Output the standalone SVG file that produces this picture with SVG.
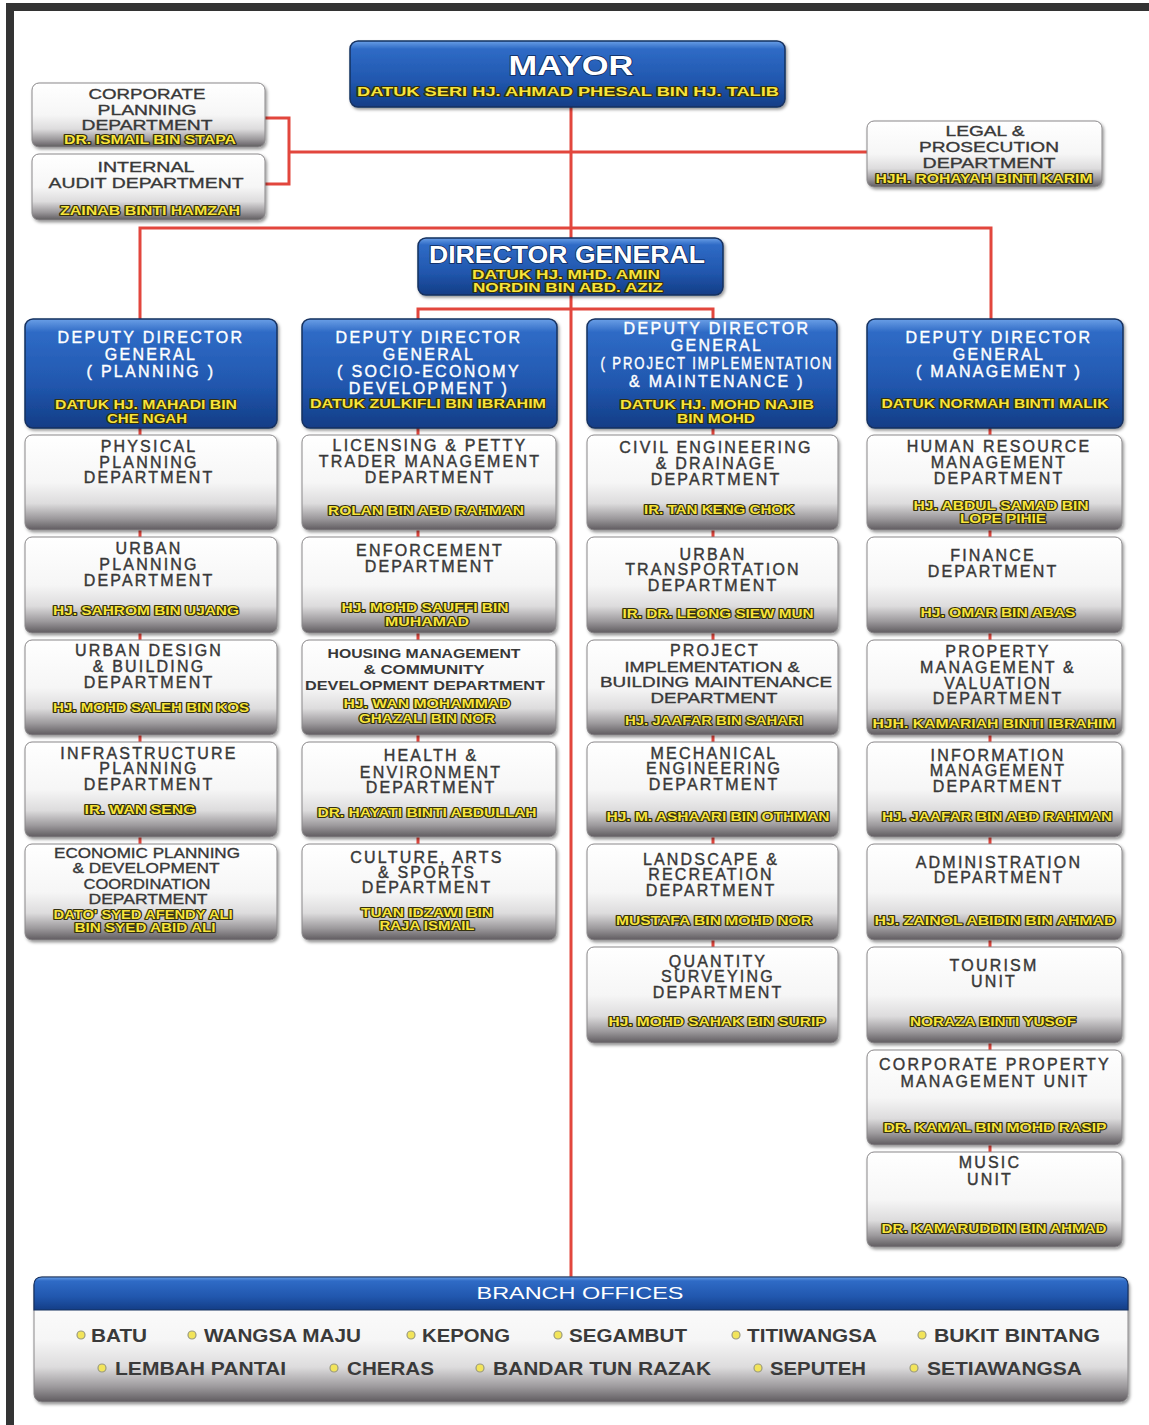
<svg xmlns="http://www.w3.org/2000/svg" width="1149" height="1425" viewBox="0 0 1149 1425">
<defs>
<linearGradient id="gray" x1="0" y1="0" x2="0" y2="1">
<stop offset="0" stop-color="#ffffff"/><stop offset="0.5" stop-color="#f6f6f6"/><stop offset="0.72" stop-color="#dddcdd"/><stop offset="0.88" stop-color="#9c999c"/><stop offset="1" stop-color="#5f5b5f"/>
</linearGradient>
<linearGradient id="blue" x1="0" y1="0" x2="0" y2="1">
<stop offset="0" stop-color="#6a9fe6"/><stop offset="0.12" stop-color="#2f6bc6"/><stop offset="0.6" stop-color="#2157ae"/><stop offset="1" stop-color="#133d86"/>
</linearGradient>
<filter id="sh" x="-5%" y="-5%" width="112%" height="120%">
<feDropShadow dx="1.5" dy="2" stdDeviation="1.5" flood-color="#000" flood-opacity="0.4"/>
</filter>
<style>
.box{fill:url(#gray);stroke:#8a888a;stroke-width:1;filter:url(#sh)}
.bbox{fill:url(#blue);stroke:#15305f;stroke-width:1.5;filter:url(#sh)}
.t{font-family:"Liberation Sans",Arial,sans-serif;font-size:16px;letter-spacing:2.2px;fill:#383838;stroke:#383838;stroke-width:0.4;text-anchor:middle}
.tc{font-family:"Liberation Sans",Arial,sans-serif;font-size:15px;fill:#383838;stroke:#383838;stroke-width:0.35;text-anchor:middle}
.th{font-family:"Liberation Sans",Arial,sans-serif;font-size:12px;font-weight:bold;fill:#383838;text-anchor:middle}
.w{font-family:"Liberation Sans",Arial,sans-serif;font-size:16px;letter-spacing:2.3px;fill:#ffffff;stroke:#ffffff;stroke-width:0.4;text-anchor:middle}
.wb{font-family:"Liberation Sans",Arial,sans-serif;font-weight:bold;fill:#ffffff;stroke:#0f2a5c;stroke-width:1.5;paint-order:stroke;text-anchor:middle}
.n{font-family:"Liberation Sans",Arial,sans-serif;font-size:12.5px;font-weight:bold;fill:#f8e43a;stroke:#33300f;stroke-width:2.2;stroke-linejoin:round;paint-order:stroke;text-anchor:middle}
.br{font-family:"Liberation Sans",Arial,sans-serif;font-size:18px;font-weight:bold;fill:#3a3a3a}
.dot{fill:#f2e45a;stroke:#9a9a80;stroke-width:1.2}
.c{stroke:#e2463d;stroke-width:3;fill:none}
</style>
</defs>
<rect x="0" y="0" width="1149" height="1425" fill="#ffffff"/>
<rect x="6" y="3" width="8" height="1422" fill="#333333"/>
<rect x="6" y="3" width="1143" height="8" fill="#333333"/>

<g id="connectors">
<line class="c" x1="571" y1="107" x2="571" y2="1277"/>
<line class="c" x1="289" y1="152" x2="867" y2="152"/>
<path class="c" d="M265 118 H289 V184 H265"/>
<path class="c" d="M140 319 V228 H991 V319"/>
<path class="c" d="M418 319 V309 H713 V319"/>
<path class="c" d="M140 428 V435 M140 530 V537 M140 633 V640 M140 735 V742 M140 837 V844"/>
<path class="c" d="M418 428 V435 M418 530 V537 M418 633 V640 M418 735 V742 M418 837 V844"/>
<path class="c" d="M713 428 V435 M713 530 V537 M713 633 V640 M713 735 V742 M713 837 V844 M713 940 V947"/>
<path class="c" d="M990 428 V435 M990 530 V537 M990 633 V640 M990 735 V742 M990 837 V844 M990 940 V947 M990 1043 V1050 M990 1145 V1152"/>
</g>

<g id="mayor">
<rect class="bbox" x="350" y="41" width="435" height="66" rx="8"/>
<text class="wb" x="571" y="75" font-size="27" textLength="125" lengthAdjust="spacingAndGlyphs">MAYOR</text>
<text class="n" x="568" y="96" font-size="14" textLength="422" lengthAdjust="spacingAndGlyphs">DATUK SERI HJ. AHMAD PHESAL BIN HJ. TALIB</text>
</g>

<g id="corporate-planning">
<rect class="box" x="32" y="83" width="233" height="64" rx="7"/>
<text class="tc" x="147" y="99" textLength="117" lengthAdjust="spacingAndGlyphs">CORPORATE</text>
<text class="tc" x="147" y="115" textLength="99" lengthAdjust="spacingAndGlyphs">PLANNING</text>
<text class="tc" x="147" y="130" textLength="131" lengthAdjust="spacingAndGlyphs">DEPARTMENT</text>
<text class="n" x="150" y="143.5" textLength="172" lengthAdjust="spacingAndGlyphs">DR. ISMAIL BIN STAPA</text>
</g>

<g id="internal-audit">
<rect class="box" x="32" y="154" width="233" height="66" rx="7"/>
<text class="tc" x="146" y="172" textLength="97" lengthAdjust="spacingAndGlyphs">INTERNAL</text>
<text class="tc" x="146" y="188" textLength="195" lengthAdjust="spacingAndGlyphs">AUDIT DEPARTMENT</text>
<text class="n" x="150" y="214.5" textLength="180" lengthAdjust="spacingAndGlyphs">ZAINAB BINTI HAMZAH</text>
</g>

<g id="legal-prosecution">
<rect class="box" x="867" y="121" width="235" height="66" rx="7"/>
<text class="tc" x="985" y="135.5" textLength="79" lengthAdjust="spacingAndGlyphs">LEGAL &amp;</text>
<text class="tc" x="989" y="152" textLength="140" lengthAdjust="spacingAndGlyphs">PROSECUTION</text>
<text class="tc" x="989" y="167.5" textLength="133" lengthAdjust="spacingAndGlyphs">DEPARTMENT</text>
<text class="n" x="984" y="182.5" textLength="217" lengthAdjust="spacingAndGlyphs">HJH. ROHAYAH BINTI KARIM</text>
</g>

<g id="director-general">
<rect class="bbox" x="418" y="238" width="305" height="57" rx="8"/>
<text class="wb" x="567" y="263" font-size="23" textLength="276" lengthAdjust="spacingAndGlyphs">DIRECTOR GENERAL</text>
<text class="n" x="566" y="279" font-size="12" textLength="188" lengthAdjust="spacingAndGlyphs">DATUK HJ. MHD. AMIN</text>
<text class="n" x="568" y="291.5" font-size="12" textLength="190" lengthAdjust="spacingAndGlyphs">NORDIN BIN ABD. AZIZ</text>
</g>

<g id="ddg-planning">
<rect class="bbox" x="25" y="319" width="252" height="109" rx="8"/>
<text class="w" x="151" y="343">DEPUTY DIRECTOR</text>
<text class="w" x="151" y="360">GENERAL</text>
<text class="w" x="151" y="377">( PLANNING )</text>
<text class="n" x="146" y="409" textLength="182" lengthAdjust="spacingAndGlyphs">DATUK HJ. MAHADI BIN</text>
<text class="n" x="147" y="423" textLength="80" lengthAdjust="spacingAndGlyphs">CHE NGAH</text>
</g>

<g id="ddg-socio-economy">
<rect class="bbox" x="302" y="319" width="255" height="109" rx="8"/>
<text class="w" x="429" y="343">DEPUTY DIRECTOR</text>
<text class="w" x="429" y="360">GENERAL</text>
<text class="w" x="429" y="377">( SOCIO-ECONOMY</text>
<text class="w" x="429" y="394">DEVELOPMENT )</text>
<text class="n" x="428" y="408" textLength="236" lengthAdjust="spacingAndGlyphs">DATUK ZULKIFLI BIN IBRAHIM</text>
</g>

<g id="ddg-project">
<rect class="bbox" x="587" y="319" width="250" height="109" rx="8"/>
<text class="w" x="717" y="334">DEPUTY DIRECTOR</text>
<text class="w" x="717" y="351">GENERAL</text>
<text class="w" x="717" y="369" textLength="233" lengthAdjust="spacingAndGlyphs">( PROJECT IMPLEMENTATION</text>
<text class="w" x="717" y="387">&amp; MAINTENANCE )</text>
<text class="n" x="717" y="409" textLength="194" lengthAdjust="spacingAndGlyphs">DATUK HJ. MOHD NAJIB</text>
<text class="n" x="716" y="423" textLength="78" lengthAdjust="spacingAndGlyphs">BIN MOHD</text>
</g>

<g id="ddg-management">
<rect class="bbox" x="867" y="319" width="256" height="109" rx="8"/>
<text class="w" x="999" y="343">DEPUTY DIRECTOR</text>
<text class="w" x="999" y="360">GENERAL</text>
<text class="w" x="999" y="377">( MANAGEMENT )</text>
<text class="n" x="995" y="408" textLength="227" lengthAdjust="spacingAndGlyphs">DATUK NORMAH BINTI MALIK</text>
</g>

<!-- column 1 -->
<g id="physical-planning">
<rect class="box" x="25" y="435" width="252" height="95" rx="7"/>
<text class="t" x="149" y="452">PHYSICAL</text>
<text class="t" x="149" y="468">PLANNING</text>
<text class="t" x="149" y="483">DEPARTMENT</text>
</g>
<g id="urban-planning">
<rect class="box" x="25" y="537" width="252" height="96" rx="7"/>
<text class="t" x="149" y="554">URBAN</text>
<text class="t" x="149" y="570">PLANNING</text>
<text class="t" x="149" y="586">DEPARTMENT</text>
<text class="n" x="146" y="614.5" textLength="186" lengthAdjust="spacingAndGlyphs">HJ. SAHROM BIN UJANG</text>
</g>
<g id="urban-design">
<rect class="box" x="25" y="640" width="252" height="95" rx="7"/>
<text class="t" x="149" y="656">URBAN DESIGN</text>
<text class="t" x="149" y="672">&amp; BUILDING</text>
<text class="t" x="149" y="688">DEPARTMENT</text>
<text class="n" x="151" y="711.5" textLength="196" lengthAdjust="spacingAndGlyphs">HJ. MOHD SALEH BIN KOS</text>
</g>
<g id="infrastructure-planning">
<rect class="box" x="25" y="742" width="252" height="95" rx="7"/>
<text class="t" x="149" y="759">INFRASTRUCTURE</text>
<text class="t" x="149" y="774">PLANNING</text>
<text class="t" x="149" y="790">DEPARTMENT</text>
<text class="n" x="140" y="813.5" textLength="111" lengthAdjust="spacingAndGlyphs">IR. WAN SENG</text>
</g>
<g id="economic-planning">
<rect class="box" x="25" y="844" width="252" height="96" rx="7"/>
<text class="tc" x="147" y="858" textLength="186" lengthAdjust="spacingAndGlyphs">ECONOMIC PLANNING</text>
<text class="tc" x="146" y="873" textLength="147" lengthAdjust="spacingAndGlyphs">&amp; DEVELOPMENT</text>
<text class="tc" x="147" y="889" textLength="127" lengthAdjust="spacingAndGlyphs">COORDINATION</text>
<text class="tc" x="148" y="904" textLength="119" lengthAdjust="spacingAndGlyphs">DEPARTMENT</text>
<text class="n" x="143" y="919" textLength="179" lengthAdjust="spacingAndGlyphs">DATO' SYED AFENDY ALI</text>
<text class="n" x="145" y="931.5" textLength="141" lengthAdjust="spacingAndGlyphs">BIN SYED ABID ALI</text>
</g>

<!-- column 2 -->
<g id="licensing">
<rect class="box" x="302" y="435" width="254" height="95" rx="7"/>
<text class="t" x="430" y="451">LICENSING &amp; PETTY</text>
<text class="t" x="430" y="467">TRADER MANAGEMENT</text>
<text class="t" x="430" y="483">DEPARTMENT</text>
<text class="n" x="426" y="514.5" textLength="196" lengthAdjust="spacingAndGlyphs">ROLAN BIN ABD RAHMAN</text>
</g>
<g id="enforcement">
<rect class="box" x="302" y="537" width="254" height="96" rx="7"/>
<text class="t" x="430" y="556">ENFORCEMENT</text>
<text class="t" x="430" y="572">DEPARTMENT</text>
<text class="n" x="425" y="611.5" textLength="167" lengthAdjust="spacingAndGlyphs">HJ. MOHD SAUFFI BIN</text>
<text class="n" x="427" y="626" textLength="84" lengthAdjust="spacingAndGlyphs">MUHAMAD</text>
</g>
<g id="housing">
<rect class="box" x="302" y="640" width="254" height="95" rx="7"/>
<text class="th" x="424" y="657.5" textLength="193" lengthAdjust="spacingAndGlyphs">HOUSING MANAGEMENT</text>
<text class="th" x="424" y="673.5" textLength="121" lengthAdjust="spacingAndGlyphs">&amp; COMMUNITY</text>
<text class="th" x="425" y="689.5" textLength="240" lengthAdjust="spacingAndGlyphs">DEVELOPMENT DEPARTMENT</text>
<text class="n" x="427" y="707.5" textLength="167" lengthAdjust="spacingAndGlyphs">HJ. WAN MOHAMMAD</text>
<text class="n" x="427" y="723" textLength="136" lengthAdjust="spacingAndGlyphs">GHAZALI BIN NOR</text>
</g>
<g id="health-environment">
<rect class="box" x="302" y="742" width="254" height="95" rx="7"/>
<text class="t" x="431" y="761">HEALTH &amp;</text>
<text class="t" x="431" y="778">ENVIRONMENT</text>
<text class="t" x="431" y="793">DEPARTMENT</text>
<text class="n" x="427" y="816.5" textLength="219" lengthAdjust="spacingAndGlyphs">DR. HAYATI BINTI ABDULLAH</text>
</g>
<g id="culture-arts">
<rect class="box" x="302" y="844" width="254" height="96" rx="7"/>
<text class="t" x="427" y="863">CULTURE, ARTS</text>
<text class="t" x="427" y="878">&amp; SPORTS</text>
<text class="t" x="427" y="893">DEPARTMENT</text>
<text class="n" x="427" y="916.5" textLength="132" lengthAdjust="spacingAndGlyphs">TUAN IDZAWI BIN</text>
<text class="n" x="427" y="930" textLength="95" lengthAdjust="spacingAndGlyphs">RAJA ISMAIL</text>
</g>

<!-- column 3 -->
<g id="civil-engineering">
<rect class="box" x="587" y="435" width="251" height="95" rx="7"/>
<text class="t" x="716" y="453">CIVIL ENGINEERING</text>
<text class="t" x="716" y="469">&amp; DRAINAGE</text>
<text class="t" x="716" y="485">DEPARTMENT</text>
<text class="n" x="719" y="513.5" textLength="150" lengthAdjust="spacingAndGlyphs">IR. TAN KENG CHOK</text>
</g>
<g id="urban-transportation">
<rect class="box" x="587" y="537" width="251" height="96" rx="7"/>
<text class="t" x="713" y="560">URBAN</text>
<text class="t" x="713" y="575">TRANSPORTATION</text>
<text class="t" x="713" y="591">DEPARTMENT</text>
<text class="n" x="718" y="617.5" textLength="191" lengthAdjust="spacingAndGlyphs">IR. DR. LEONG SIEW MUN</text>
</g>
<g id="project-implementation">
<rect class="box" x="587" y="640" width="251" height="95" rx="7"/>
<text class="t" x="715" y="656">PROJECT</text>
<text class="tc" x="712" y="672" font-size="16" textLength="175" lengthAdjust="spacingAndGlyphs">IMPLEMENTATION &amp;</text>
<text class="tc" x="716" y="687" font-size="16" textLength="232" lengthAdjust="spacingAndGlyphs">BUILDING MAINTENANCE</text>
<text class="tc" x="714" y="703" font-size="16" textLength="127" lengthAdjust="spacingAndGlyphs">DEPARTMENT</text>
<text class="n" x="714" y="724.5" textLength="178" lengthAdjust="spacingAndGlyphs">HJ. JAAFAR BIN SAHARI</text>
</g>
<g id="mechanical-engineering">
<rect class="box" x="587" y="742" width="251" height="95" rx="7"/>
<text class="t" x="714" y="759">MECHANICAL</text>
<text class="t" x="714" y="774">ENGINEERING</text>
<text class="t" x="714" y="790">DEPARTMENT</text>
<text class="n" x="718" y="820.5" textLength="223" lengthAdjust="spacingAndGlyphs">HJ. M. ASHAARI BIN OTHMAN</text>
</g>
<g id="landscape-recreation">
<rect class="box" x="587" y="844" width="251" height="96" rx="7"/>
<text class="t" x="711" y="865">LANDSCAPE &amp;</text>
<text class="t" x="711" y="880">RECREATION</text>
<text class="t" x="711" y="896">DEPARTMENT</text>
<text class="n" x="714" y="924.5" textLength="196" lengthAdjust="spacingAndGlyphs">MUSTAFA BIN MOHD NOR</text>
</g>
<g id="quantity-surveying">
<rect class="box" x="587" y="947" width="251" height="96" rx="7"/>
<text class="t" x="718" y="967">QUANTITY</text>
<text class="t" x="718" y="982">SURVEYING</text>
<text class="t" x="718" y="998">DEPARTMENT</text>
<text class="n" x="717" y="1025.5" textLength="217" lengthAdjust="spacingAndGlyphs">HJ. MOHD SAHAK BIN SURIP</text>
</g>

<!-- column 4 -->
<g id="human-resource">
<rect class="box" x="867" y="435" width="255" height="95" rx="7"/>
<text class="t" x="999" y="452">HUMAN RESOURCE</text>
<text class="t" x="999" y="468">MANAGEMENT</text>
<text class="t" x="999" y="484">DEPARTMENT</text>
<text class="n" x="1001" y="510" textLength="175" lengthAdjust="spacingAndGlyphs">HJ. ABDUL SAMAD BIN</text>
<text class="n" x="1003" y="522.5" textLength="86" lengthAdjust="spacingAndGlyphs">LOPE PIHIE</text>
</g>
<g id="finance">
<rect class="box" x="867" y="537" width="255" height="96" rx="7"/>
<text class="t" x="993" y="561">FINANCE</text>
<text class="t" x="993" y="577">DEPARTMENT</text>
<text class="n" x="998" y="617" textLength="155" lengthAdjust="spacingAndGlyphs">HJ. OMAR BIN ABAS</text>
</g>
<g id="property-management">
<rect class="box" x="867" y="640" width="255" height="95" rx="7"/>
<text class="t" x="998" y="657">PROPERTY</text>
<text class="t" x="998" y="673">MANAGEMENT &amp;</text>
<text class="t" x="998" y="689">VALUATION</text>
<text class="t" x="998" y="704">DEPARTMENT</text>
<text class="n" x="994" y="727.5" textLength="243" lengthAdjust="spacingAndGlyphs">HJH. KAMARIAH BINTI IBRAHIM</text>
</g>
<g id="information-management">
<rect class="box" x="867" y="742" width="255" height="95" rx="7"/>
<text class="t" x="998" y="761">INFORMATION</text>
<text class="t" x="998" y="776">MANAGEMENT</text>
<text class="t" x="998" y="792">DEPARTMENT</text>
<text class="n" x="997" y="820.5" textLength="230" lengthAdjust="spacingAndGlyphs">HJ. JAAFAR BIN ABD RAHMAN</text>
</g>
<g id="administration">
<rect class="box" x="867" y="844" width="255" height="96" rx="7"/>
<text class="t" x="999" y="868">ADMINISTRATION</text>
<text class="t" x="999" y="883">DEPARTMENT</text>
<text class="n" x="995" y="924.5" textLength="241" lengthAdjust="spacingAndGlyphs">HJ. ZAINOL ABIDIN BIN AHMAD</text>
</g>
<g id="tourism-unit">
<rect class="box" x="867" y="947" width="255" height="96" rx="7"/>
<text class="t" x="994" y="971">TOURISM</text>
<text class="t" x="994" y="987">UNIT</text>
<text class="n" x="993" y="1025.5" textLength="166" lengthAdjust="spacingAndGlyphs">NORAZA BINTI YUSOF</text>
</g>
<g id="corporate-property">
<rect class="box" x="867" y="1050" width="255" height="95" rx="7"/>
<text class="t" x="995" y="1070">CORPORATE PROPERTY</text>
<text class="t" x="995" y="1087">MANAGEMENT UNIT</text>
<text class="n" x="995" y="1131.5" textLength="223" lengthAdjust="spacingAndGlyphs">DR. KAMAL BIN MOHD RASIP</text>
</g>
<g id="music-unit">
<rect class="box" x="867" y="1152" width="255" height="95" rx="7"/>
<text class="t" x="990" y="1168">MUSIC</text>
<text class="t" x="990" y="1185">UNIT</text>
<text class="n" x="994" y="1232.5" textLength="225" lengthAdjust="spacingAndGlyphs">DR. KAMARUDDIN BIN AHMAD</text>
</g>

<g id="branch-offices">
<rect class="box" x="34" y="1277" width="1094" height="125" rx="8"/>
<path d="M42 1277 H1120 Q1128 1277 1128 1285 V1310 H34 V1285 Q34 1277 42 1277 Z" fill="url(#blue)" stroke="#15305f" stroke-width="1.2"/>
<text x="580" y="1299" font-family="Liberation Sans, Arial, sans-serif" font-size="17" fill="#ffffff" text-anchor="middle" textLength="207" lengthAdjust="spacingAndGlyphs">BRANCH OFFICES</text>
<circle class="dot" cx="81" cy="1335" r="4"/><text class="br" x="91" y="1341.5" textLength="56" lengthAdjust="spacingAndGlyphs">BATU</text>
<circle class="dot" cx="192" cy="1335" r="4"/><text class="br" x="204" y="1341.5" textLength="157" lengthAdjust="spacingAndGlyphs">WANGSA MAJU</text>
<circle class="dot" cx="411" cy="1335" r="4"/><text class="br" x="422" y="1341.5" textLength="88" lengthAdjust="spacingAndGlyphs">KEPONG</text>
<circle class="dot" cx="558" cy="1335" r="4"/><text class="br" x="569" y="1341.5" textLength="118" lengthAdjust="spacingAndGlyphs">SEGAMBUT</text>
<circle class="dot" cx="736" cy="1335" r="4"/><text class="br" x="747" y="1341.5" textLength="130" lengthAdjust="spacingAndGlyphs">TITIWANGSA</text>
<circle class="dot" cx="922" cy="1335" r="4"/><text class="br" x="934" y="1341.5" textLength="166" lengthAdjust="spacingAndGlyphs">BUKIT BINTANG</text>
<circle class="dot" cx="102" cy="1368" r="4"/><text class="br" x="115" y="1374.5" textLength="171" lengthAdjust="spacingAndGlyphs">LEMBAH PANTAI</text>
<circle class="dot" cx="334" cy="1368" r="4"/><text class="br" x="347" y="1374.5" textLength="87" lengthAdjust="spacingAndGlyphs">CHERAS</text>
<circle class="dot" cx="480" cy="1368" r="4"/><text class="br" x="493" y="1374.5" textLength="218" lengthAdjust="spacingAndGlyphs">BANDAR TUN RAZAK</text>
<circle class="dot" cx="758" cy="1368" r="4"/><text class="br" x="770" y="1374.5" textLength="96" lengthAdjust="spacingAndGlyphs">SEPUTEH</text>
<circle class="dot" cx="914" cy="1368" r="4"/><text class="br" x="927" y="1374.5" textLength="155" lengthAdjust="spacingAndGlyphs">SETIAWANGSA</text>
</g>
</svg>
